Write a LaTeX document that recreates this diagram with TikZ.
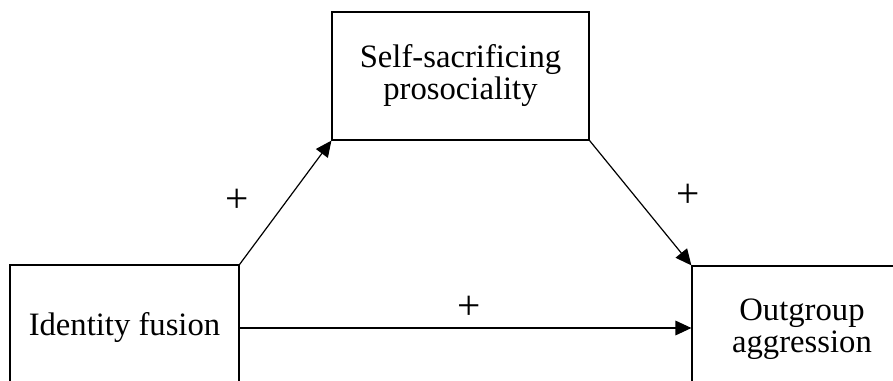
\documentclass[tikz,border=0pt]{standalone}
\usepackage{fontspec}
\setmainfont{Liberation Serif}
\usetikzlibrary{arrows.meta}

\begin{document}
\begin{tikzpicture}[x=0.75pt,y=-0.75pt,line width=0.9pt,
    box/.style={draw,rectangle,align=center,inner sep=0pt,font=\fontsize{24.5}{24}\selectfont},
    link/.style={-{Triangle[length=12pt,width=11pt]}},
    sign/.style={font=\fontsize{31}{31}\selectfont}]
    \useasboundingbox (0,0) rectangle (893,381);
    \clip (0,0) rectangle (893,381);
    \node at (124.5,328) [box,minimum width=229*0.75pt,minimum height=126*0.75pt] (fusion) {Identity fusion};
    \node at (460.5,76) [box,minimum width=257*0.75pt,minimum height=128*0.75pt] (sacrifice) {Self-sacrificing\\prosociality};
    \node at (802,329) [box,minimum width=220*0.75pt,minimum height=126*0.75pt] (aggression) {Outgroup\\aggression};
    \draw[link] (fusion.north east) -- (sacrifice.south west);
    \draw[link] (sacrifice.south east) -- (aggression.north west);
    \draw[link] (fusion.east) -- (fusion.east -| aggression.west);
    \node at (237,201) [sign] (plusa) {+};
    \node at (688,196) [sign] (plusb) {+};
    \node at (469,308) [sign] (plusc) {+};
\end{tikzpicture}
\end{document}
